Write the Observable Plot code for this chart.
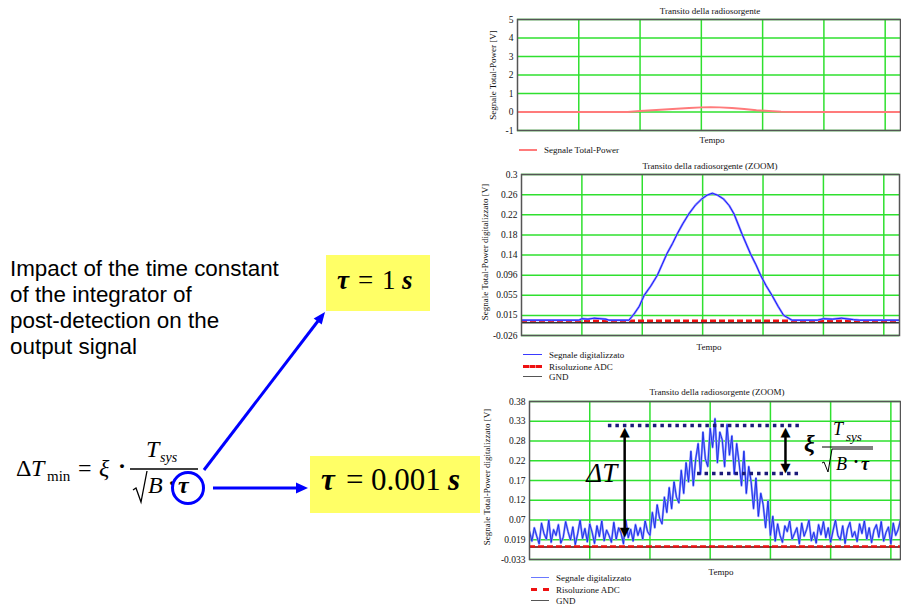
<!DOCTYPE html>
<html><head><meta charset="utf-8">
<script src="https://cdn.jsdelivr.net/npm/d3@7"></script>
<script src="https://cdn.jsdelivr.net/npm/@observablehq/plot@0.6"></script>
<style>
body{margin:0;background:#fff;}
#page{position:relative;width:901px;height:608px;overflow:hidden;background:#fff;}
.t{position:absolute;white-space:nowrap;line-height:1;}
.serif{font-family:"Liberation Serif","Times New Roman",serif;}
.sans{font-family:"Liberation Sans",Arial,sans-serif;}
.sm{font-family:"Liberation Serif","Times New Roman",serif;font-size:9px;color:#111;}
.cx{transform:translate(-50%,-50%);}
.ylab{transform:translate(-50%,-50%) rotate(-90deg);}
</style></head><body><div id="page"></div>
<script>
// ---------- DATA ----------
const gridX = [1, 2, 3, 4, 5, 6];

// Chart 1: Transito della radiosorgente
const c1Time = [0, 1.8, 2.0, 2.2, 2.4, 2.6, 2.8, 3.0, 3.15, 3.3, 3.5, 3.7, 3.9, 4.1, 4.3, 4.5, 6.3];
const c1Signal = [0, 0, 0.05, 0.09, 0.135, 0.18, 0.22, 0.25, 0.26, 0.25, 0.22, 0.16, 0.1, 0.055, 0.015, 0, 0];
const c1YTicks = [-1, 0, 1, 2, 3, 4, 5];

// Chart 2: Transito della radiosorgente (ZOOM), tau = 1 s
const c2Time = [0, 0.5, 0.95, 1.0, 1.1, 1.2, 1.3, 1.4, 1.45, 1.78, 1.86, 1.95, 2.03, 2.14, 2.25, 2.33, 2.41, 2.5, 2.58, 2.67, 2.77, 2.88, 2.98, 3.07, 3.16, 3.25, 3.35, 3.44, 3.52, 3.65, 3.79, 3.88, 3.96, 4.05, 4.15, 4.25, 4.34, 4.48, 4.9, 5.0, 5.15, 5.3, 5.5, 5.6, 6.3];
const c2Signal = [0.005, 0.005, 0.005, 0.008, 0.007, 0.009, 0.008, 0.007, 0.005, 0.005, 0.017, 0.033, 0.055, 0.074, 0.096, 0.118, 0.14, 0.16, 0.18, 0.2, 0.22, 0.238, 0.25, 0.258, 0.262, 0.258, 0.25, 0.237, 0.22, 0.18, 0.14, 0.118, 0.096, 0.075, 0.055, 0.033, 0.015, 0.005, 0.005, 0.008, 0.007, 0.009, 0.006, 0.005, 0.005];
const c2YTicks = [-0.026, 0.01475, 0.0555, 0.09625, 0.137, 0.17775, 0.2185, 0.25925, 0.3];
const c2YLabels = ["-0.026", "0.015", "0.055", "0.096", "0.14", "0.18", "0.22", "0.26", "0.3"];
const c2ADC = 0.004;
const c2GND = 0;

// Chart 3: Transito della radiosorgente (ZOOM), tau = 0.001 s
const c3Step = 0.04;
const c3Signal = [
  0.04,0.015,0.05,0.028,0.008,0.062,0.035,0.02,0.07,0.012,0.045,0.03,0.058,0.01,0.025,0.066,0.04,0.018,0.052,0.006,0.034,0.07,0.022,0.048,0.013,0.06,0.038,0.009,0.055,0.027,0.068,0.016,0.044,0.03,0.012,0.064,0.02,0.05,0.036,0.008,0.07,0.024,0.046,0.015,0.058,0.03,
  0.05,0.02,0.068,0.04,0.03,0.09,0.05,0.11,0.075,0.06,0.13,0.09,0.155,0.1,0.17,0.13,0.115,0.2,0.14,0.22,0.17,0.25,0.16,0.23,0.27,0.19,0.3,0.23,0.21,0.31,0.26,0.335,0.22,0.3,0.28,0.21,0.32,0.24,0.29,0.19,0.27,0.22,0.16,0.25,0.14,0.21,0.17,0.1,0.18,0.08,0.14,0.11,0.05,0.12,0.03,0.08,0.015,
  0.06,0.03,0.012,0.055,0.04,0.068,0.02,0.035,0.05,0.008,0.062,0.028,0.045,0.07,0.016,0.038,0.01,0.058,0.032,0.066,0.024,0.05,0.012,0.042,0.07,0.03,0.018,0.055,0.009,0.047,0.064,0.026,0.04,0.014,0.06,0.035,0.068,0.02,0.05,0.011,0.044,0.058,0.025,0.066,0.015,0.038,0.052,0.008,0.062,0.03,0.045,0.07,0.02
];
const c3YTicks = [-0.033, 0.0186, 0.0703, 0.1219, 0.1735, 0.2251, 0.2768, 0.3284, 0.38];
const c3YLabels = ["-0.033", "0.019", "0.07", "0.12", "0.17", "0.22", "0.28", "0.33", "0.38"];
const c3ADC = 0.0015;
const c3GND = 0;
const c3DottedY = [0.317, 0.192];
const c3DottedX1 = [1.31, 2.79];
const c3DottedX2 = [4.5, 4.5];
const c3ArrowX = [1.58, 4.25];
const c3ArrowLow = [0.0245, 0.192];
const c3ArrowHigh = [0.317, 0.317];

// ---------- HELPERS ----------
const page = document.getElementById("page");
const GREEN = "#2fe02f";
const SERIF = "Liberation Serif";

function addText(html, x, y, cls, css) {
  const d = document.createElement("div");
  d.className = "t " + (cls || "");
  d.innerHTML = html;
  d.style.left = x + "px";
  d.style.top = y + "px";
  if (css) Object.assign(d.style, css);
  page.appendChild(d);
  return d;
}
function base(html, x, baseline, fs, css) {
  return addText(html, x, baseline - 0.84 * fs, "serif", Object.assign({fontSize: fs + "px"}, css || {}));
}
function legendLine(x, y, w, style) {
  const d = document.createElement("div");
  d.style.position = "absolute";
  d.style.left = x + "px";
  d.style.top = y + "px";
  d.style.width = w + "px";
  d.style.borderTop = style;
  page.appendChild(d);
}
function labelFor(ticks, labels) {
  return d => {
    let best = 0;
    ticks.forEach((t, i) => { if (Math.abs(t - d) < Math.abs(ticks[best] - d)) best = i; });
    return labels[best];
  };
}

function chart(o) {
  const svg = Plot.plot({
    width: o.width, height: o.height,
    marginTop: o.mt, marginBottom: o.mb, marginLeft: o.ml, marginRight: o.mr,
    style: {fontFamily: SERIF, fontSize: "9.5px", color: "#111", background: "transparent", overflow: "visible"},
    x: {domain: o.xDomain, axis: null},
    y: {domain: o.yDomain, ticks: o.yTicks, tickFormat: o.tickFormat, tickSize: 0, tickPadding: 4, label: null},
    marks: [
      Plot.ruleY(o.yTicks, {stroke: GREEN, strokeWidth: 1.5}),
      Plot.ruleX(gridX, {stroke: GREEN, strokeWidth: 1.5}),
      ...o.marks,
      Plot.frame({stroke: "#555", strokeWidth: 1.5})
    ]
  });
  svg.style.position = "absolute";
  svg.style.left = o.left + "px";
  svg.style.top = o.top + "px";
  svg.style.maxWidth = "none";
  page.appendChild(svg);
}

// ---------- CHART 1 ----------
chart({
  left: 480, top: 0, width: 425, height: 150, mt: 19, mb: 20, ml: 37, mr: 5,
  xDomain: [0, 6.25], yDomain: [-1, 5], yTicks: c1YTicks, tickFormat: d => String(d),
  marks: [
    Plot.line(c1Time.map((t, i) => ({t, v: c1Signal[i]})), {x: "t", y: "v", stroke: "#ff7b7b", strokeWidth: 2, clip: true})
  ]
});

// ---------- CHART 2 ----------
chart({
  left: 480, top: 160, width: 425, height: 185, mt: 14, mb: 10, ml: 41, mr: 6,
  xDomain: [0, 6.26], yDomain: [-0.026, 0.3], yTicks: c2YTicks, tickFormat: labelFor(c2YTicks, c2YLabels),
  marks: [
    Plot.ruleY([c2GND], {stroke: "#333", strokeWidth: 1.5}),
    Plot.ruleY([c2ADC], {stroke: "#ee1111", strokeWidth: 2.5, strokeDasharray: "6,3"}),
    Plot.line(c2Time.map((t, i) => ({t, v: c2Signal[i]})), {x: "t", y: "v", stroke: "#8a8aff", strokeWidth: 2.2, clip: true}),
    Plot.line(c2Time.map((t, i) => ({t, v: c2Signal[i]})), {x: "t", y: "v", stroke: "#1a1aff", strokeWidth: 1, clip: true})
  ]
});

// ---------- CHART 3 ----------
const c3Data = c3Signal.map((v, i) => ({t: i * c3Step, v}));
const c3Dotted = c3DottedY.map((y, i) => ({y, x1: c3DottedX1[i], x2: c3DottedX2[i]}));
const c3Arrows = c3ArrowX.map((x, i) => ({x, lo: c3ArrowLow[i], hi: c3ArrowHigh[i]}));
chart({
  left: 480, top: 390, width: 425, height: 175, mt: 11, mb: 6, ml: 49, mr: 5,
  xDomain: [0, 6.16], yDomain: [-0.033, 0.38], yTicks: c3YTicks, tickFormat: labelFor(c3YTicks, c3YLabels),
  marks: [
    Plot.line(c3Data, {x: "t", y: "v", stroke: "#8c96ff", strokeWidth: 2.2, clip: true}),
    Plot.line(c3Data, {x: "t", y: "v", stroke: "#1428e6", strokeWidth: 0.9, clip: true}),
    Plot.ruleY([c3GND], {stroke: "#5a0000", strokeWidth: 1.5}),
    Plot.ruleY([c3ADC], {stroke: "#ee1111", strokeWidth: 2.2, strokeDasharray: "6,3"}),
    Plot.ruleY(c3Dotted, {y: "y", x1: "x1", x2: "x2", stroke: "#1a1a78", strokeWidth: 3.5, strokeDasharray: "3.5,4"}),
    Plot.ruleX(c3Arrows, {x: "x", y1: d => d.lo + 0.02, y2: d => d.hi - 0.02, stroke: "#000", strokeWidth: 2.5}),
    Plot.text(c3Arrows, {x: "x", y: "hi", text: () => "▲", fill: "#000", fontSize: 13, dy: 6, fontFamily: "DejaVu Sans"}),
    Plot.text(c3Arrows, {x: "x", y: "lo", text: () => "▼", fill: "#000", fontSize: 13, dy: -6, fontFamily: "DejaVu Sans"}),
    Plot.text(["ΔT"], {x: [1.2], y: [0.192], text: d => d, fontSize: 27, fontStyle: "italic", fontFamily: SERIF, fill: "#000"})
  ]
});

// ---------- CHART TEXTS ----------
addText("Transito della radiosorgente", 710, 11, "sm cx");
addText("Tempo", 712, 140, "sm cx");
addText("Segnale Total-Power [V]", 493, 75, "sm ylab");
legendLine(519, 149, 18, "2px solid #ff7b7b");
addText("Segnale Total-Power", 544, 150, "sm", {transform: "translateY(-50%)"});

addText("Transito della radiosorgente (ZOOM)", 710, 166, "sm cx");
addText("Tempo", 709, 347, "sm cx");
addText("Segnale Total-Power digitalizzato [V]", 485, 252, "sm ylab");
legendLine(523, 354, 19, "1.5px solid #3a3aff");
addText("Segnale digitalizzato", 549, 355, "sm", {transform: "translateY(-50%)"});
legendLine(523, 365, 19, "3px dashed #ee1111");
addText("Risoluzione ADC", 549, 367, "sm", {transform: "translateY(-50%)"});
legendLine(523, 376, 19, "1.5px solid #555");
addText("GND", 549, 377, "sm", {transform: "translateY(-50%)"});

addText("Transito della radiosorgente (ZOOM)", 717, 392, "sm cx");
addText("Tempo", 721, 572, "sm cx");
addText("Segnale Total-Power digitalizzato [V]", 487, 477, "sm ylab");
legendLine(531, 577, 18, "1.5px solid #6a78ff");
addText("Segnale digitalizzato", 556, 578, "sm", {transform: "translateY(-50%)"});
legendLine(531, 588, 18, "3px dashed #ee1111");
addText("Risoluzione ADC", 556, 590, "sm", {transform: "translateY(-50%)"});
legendLine(531, 600, 18, "1.5px solid #555");
addText("GND", 556, 601, "sm", {transform: "translateY(-50%)"});

// chart 3 formula
base("ξ", 804, 451, 24, {fontStyle: "italic", fontWeight: "bold"});
base("T", 833, 435, 18, {fontStyle: "italic"});
base("sys", 846, 441, 13, {fontStyle: "italic"});
base("B", 836, 470, 18, {fontStyle: "italic"});
base("·", 853, 468, 18, {fontWeight: "bold"});
base("τ", 861, 470, 18, {fontStyle: "italic", fontWeight: "bold"});

// ---------- LEFT SIDE ----------
addText("Impact of the time constant<br>of the integrator of<br>post-detection on the<br>output signal", 10, 256, "sans",
  {fontSize: "22.4px", lineHeight: "26px", color: "#000"});

addText("", 326, 255, "", {width: "104px", height: "56px", background: "#ffff66"});
addText("", 310, 456, "", {width: "170px", height: "57px", background: "#ffff66"});
base("τ", 337, 290, 27, {fontStyle: "italic", fontWeight: "bold"});
base("=", 358, 290, 27);
base("1", 382, 290, 27);
base("s", 402, 290, 27, {fontStyle: "italic", fontWeight: "bold"});
base("τ", 321, 490, 31, {fontStyle: "italic", fontWeight: "bold"});
base("=", 346, 490, 31);
base("0.001", 371, 490, 31);
base("s", 448, 490, 31, {fontStyle: "italic", fontWeight: "bold"});

// main formula
base("Δ", 16, 476, 24);
base("T", 31, 476, 24, {fontStyle: "italic"});
base("min", 47, 482, 15);
base("=", 78, 476, 24);
base("ξ", 99, 476, 24, {fontStyle: "italic"});
base("·", 118, 474, 24, {fontWeight: "bold"});
base("T", 146, 457, 24, {fontStyle: "italic"});
base("sys", 160, 463, 14, {fontStyle: "italic"});
base("B", 148, 493, 24, {fontStyle: "italic"});
base("·", 168, 491, 24, {fontWeight: "bold"});
base("τ", 178, 493, 24, {fontStyle: "italic", fontWeight: "bold"});

// decorations (fraction bars, radicals, blue arrows)
const NS = "http://www.w3.org/2000/svg";
const deco = document.createElementNS(NS, "svg");
deco.setAttribute("width", 901); deco.setAttribute("height", 608);
deco.style.position = "absolute"; deco.style.left = "0"; deco.style.top = "0"; deco.style.pointerEvents = "none";
deco.innerHTML = `
  <line x1="130" y1="469" x2="198" y2="469" stroke="#000" stroke-width="1.3"/>
  <polyline points="133,490 136,488 141,502 147,471" fill="none" stroke="#000" stroke-width="1.3"/>
  <circle cx="188" cy="488" r="15.5" fill="none" stroke="#0000ff" stroke-width="3"/>
  <line x1="204" y1="470" x2="318" y2="321" stroke="#0000ff" stroke-width="3"/>
  <polygon points="325,312 321.7,324.5 313.7,318.5" fill="#0000ff"/>
  <line x1="213" y1="488" x2="298" y2="488" stroke="#0000ff" stroke-width="3"/>
  <polygon points="308,488 296,482.5 296,493.5" fill="#0000ff"/>
  <line x1="822" y1="447" x2="873" y2="447" stroke="#000" stroke-width="1"/>
  <polyline points="822,463 824,462 828,472 832,449 873,449" fill="none" stroke="#000" stroke-width="1"/>
`;
page.appendChild(deco);
</script>
</body></html>
